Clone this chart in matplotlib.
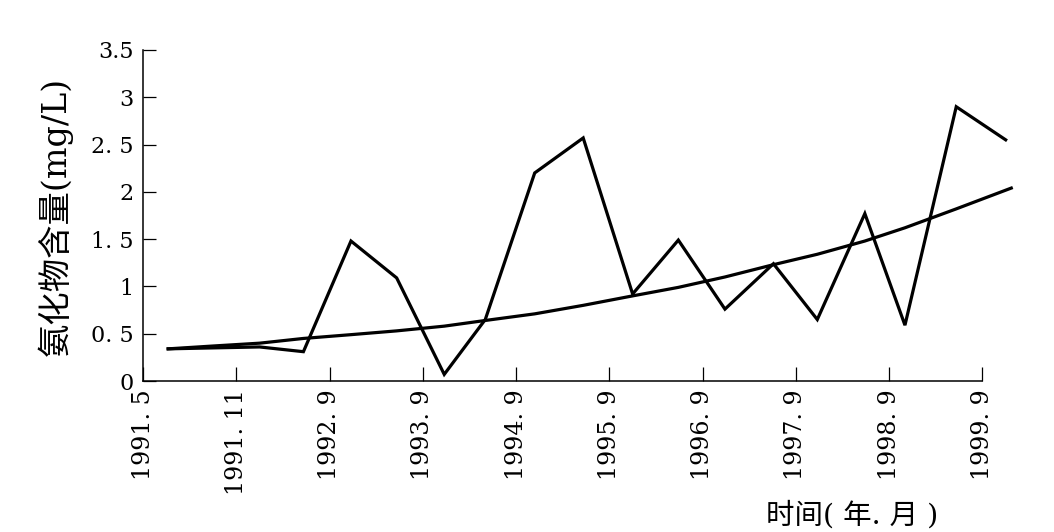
import numpy as np
import matplotlib
matplotlib.use('Agg')
import matplotlib.pyplot as plt

# tick labels along the time axis (evenly spaced categories)
tick_labels = ['1991. 5', '1991. 11', '1992. 9', '1993. 9', '1994. 9',
               '1995. 9', '1996. 9', '1997. 9', '1998. 9', '1999. 9']
ytick_vals = [0, 0.5, 1, 1.5, 2, 2.5, 3, 3.5]
ytick_labels = ['0', '0. 5', '1', '1. 5', '2', '2. 5', '3', '3.5']

# measured values (x in tick-index units)
meas_x = [0.27, 0.75, 1.25, 1.72, 2.23, 2.72, 3.23, 3.67, 4.20, 4.72,
          5.25, 5.74, 6.24, 6.76, 7.23, 7.74, 8.17, 8.72, 9.25]
meas_y = [0.34, 0.35, 0.36, 0.31, 1.48, 1.09, 0.07, 0.65, 2.20, 2.57,
          0.92, 1.49, 0.76, 1.24, 0.65, 1.77, 0.59, 2.90, 2.55]

# trend curve
trend_x = [0.27, 0.75, 1.25, 1.72, 2.23, 2.72, 3.23, 3.67, 4.20, 4.72,
           5.25, 5.74, 6.24, 6.76, 7.23, 7.74, 8.17, 8.72, 9.31]
trend_y = [0.34, 0.37, 0.40, 0.45, 0.49, 0.53, 0.58, 0.64, 0.71, 0.80,
           0.90, 0.99, 1.10, 1.23, 1.34, 1.48, 1.62, 1.82, 2.04]

W, H = 1054, 532
fig = plt.figure(figsize=(W/100, H/100), dpi=100)
ax = fig.add_axes([143/W, 1-381/H, (1015-143)/W, (381-50)/H])

ax.plot(meas_x, meas_y, color='black', lw=2.3, solid_joinstyle='miter')
ax.plot(trend_x, trend_y, color='black', lw=2.3)

ax.set_xlim(0, 9.35)
ax.set_ylim(0, 3.5)
ax.spines['top'].set_visible(False)
ax.spines['right'].set_visible(False)
ax.spines['bottom'].set_bounds(0, 9)
for s in ['left', 'bottom']:
    ax.spines[s].set_linewidth(1.1)

ax.set_xticks(np.arange(len(tick_labels)))
ax.set_xticklabels(tick_labels, rotation=90, family='DejaVu Serif', fontsize=17)
ax.set_yticks(ytick_vals)
ax.set_yticklabels(ytick_labels, family='DejaVu Serif', fontsize=16)
ax.tick_params(axis='x', direction='in', length=10, width=0.9, pad=6)
ax.tick_params(axis='y', direction='in', length=9.5, width=0.9, pad=7)

fig.text(55/W, 1-216/H, '氨化物含量(mg/L)', rotation=90, ha='center', va='center',
         fontsize=24, family=['DejaVu Serif', 'Noto Sans CJK SC'])
fig.text(852/W, 1-515/H, '时间( 年. 月 )', ha='center', va='center',
         fontsize=20.5, family=['DejaVu Serif', 'Noto Sans CJK SC'])

fig.savefig('out.png', dpi=100, facecolor='white')
